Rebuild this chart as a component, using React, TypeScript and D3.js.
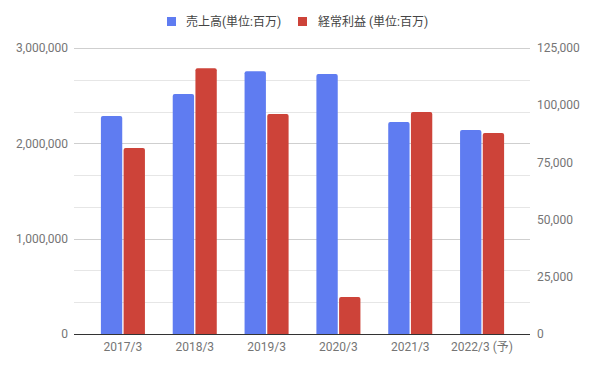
import React from "react";
import * as d3 from "d3";

const categories = ["2017/3", "2018/3", "2019/3", "2020/3", "2021/3", "2022/3 (予)"];
const salesValues = [2287000, 2518000, 2755000, 2727000, 2224000, 2140000];
const profitValues = [81300, 116100, 96150, 16200, 97000, 87900];
const leftTicks = [0, 1000000, 2000000, 3000000];
const rightTicks = [0, 25000, 50000, 75000, 100000, 125000];
const seriesNames = ["売上高(単位:百万)", "経常利益 (単位:百万)"];
const seriesColors = ["#5f7cf1", "#cd4339"];

const W = 594;
const H = 368;
const plotLeft = 74;
const plotRight = 530;
const bandLeft = 87;
const bandRight = 518;
const top = 48;
const bottom = 334;
const font = "Roboto, 'Noto Sans CJK JP', sans-serif";

export default function App() {
  const x = d3.scaleBand<string>().domain(categories).range([bandLeft, bandRight]).paddingInner(0.387).paddingOuter(0.1935);
  const inner = d3.scaleBand<number>().domain([0, 1]).range([0, x.bandwidth()]).paddingInner(0.06);
  const yL = d3.scaleLinear().domain([0, 3000000]).range([bottom, top]);
  const yR = d3.scaleLinear().domain([0, 125000]).range([bottom, top]);
  const grid = d3.range(0, 3000001, 1000000 / 3);
  const fmt = d3.format(",");

  const bars = (vals: number[], s: number, y: d3.ScaleLinear<number, number>) =>
    vals.map((v, i) => {
      const bx = (x(categories[i]) as number) + (inner(s) as number);
      const by = y(v);
      return (
        <rect key={`${s}-${i}`} x={bx} y={by} width={inner.bandwidth()} height={bottom - by + 2} rx={2} ry={2} fill={seriesColors[s]} />
      );
    });

  return (
    <svg width={W} height={H} style={{ position: "absolute", left: 0, top: 0, background: "#fff" }}>
      <rect width={W} height={H} fill="#fff" />
      {grid.map((g, i) => {
        const major = leftTicks.some((t) => Math.abs(t - g) < 1);
        return (
          <line key={i} x1={plotLeft} x2={plotRight} y1={Math.round(yL(g)) + 0.5} y2={Math.round(yL(g)) + 0.5} stroke={major ? "#cfcfcf" : "#e6e6e6"} strokeWidth={1} />
        );
      })}
      <defs>
        <clipPath id="pc">
          <rect x={0} y={0} width={W} height={bottom} />
        </clipPath>
      </defs>
      <g clipPath="url(#pc)">
        {bars(salesValues, 0, yL)}
        {bars(profitValues, 1, yR)}
      </g>
      <line x1={plotLeft} x2={plotRight} y1={bottom + 0.5} y2={bottom + 0.5} stroke="#333" strokeWidth={1} />
      {leftTicks.map((t) => (
        <text key={t} x={68} y={yL(t)} dy="0.35em" textAnchor="end" fontFamily={font} fontSize={12} fill="#757575">
          {fmt(t)}
        </text>
      ))}
      {rightTicks.map((t) => (
        <text key={t} x={537} y={yR(t)} dy="0.35em" textAnchor="start" fontFamily={font} fontSize={12} fill="#757575">
          {fmt(t)}
        </text>
      ))}
      {categories.map((c) => (
        <text key={c} x={(x(c) as number) + x.bandwidth() / 2} y={351} textAnchor="middle" fontFamily={font} fontSize={12} fill="#757575">
          {c}
        </text>
      ))}
      <g>
        <rect x={167} y={17} width={9} height={9} fill={seriesColors[0]} />
        <text x={186} y={22} dy="0.35em" fontFamily={font} fontSize={12} fill="#444">
          {seriesNames[0]}
        </text>
        <rect x={298} y={17} width={9} height={9} fill={seriesColors[1]} />
        <text x={318} y={22} dy="0.35em" fontFamily={font} fontSize={12} fill="#444">
          {seriesNames[1]}
        </text>
      </g>
    </svg>
  );
}
